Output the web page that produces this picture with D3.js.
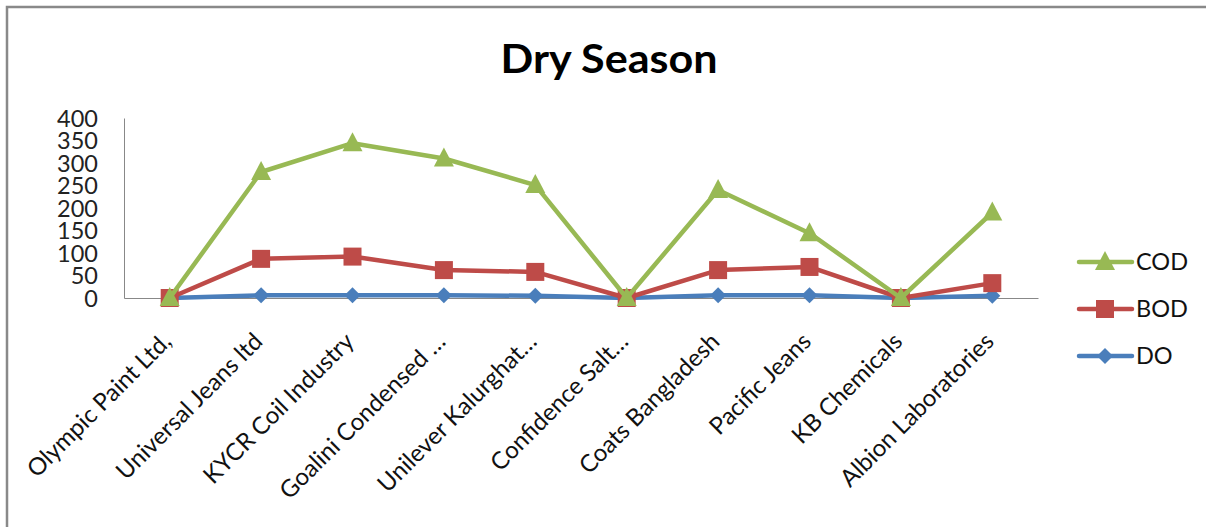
<!DOCTYPE html>
<html><head><meta charset="utf-8">
<script src="https://cdn.jsdelivr.net/npm/d3@7"></script>
<style>body{margin:0;background:#fff}svg{display:block;font-family:Lato,"Open Sans",sans-serif}</style>
</head><body><svg id="c" width="1206" height="527"></svg>
<script>
const categories = ["Olympic Paint Ltd,","Universal Jeans ltd","KYCR Coil Industry","Goalini Condensed …","Unilever Kalurghat…","Confidence Salt…","Coats Bangladesh","Pacific Jeans","KB Chemicals","Albion Laboratories"];
const codValues = [0,280,344,310,251,0,240,144,0,190];
const bodValues = [0,87,92,62,58,0,62,69,0,33];
const doValues = [0,6,6,6,5,0,6,6,0,5];
const yTicks = [0,50,100,150,200,250,300,350,400];
const seriesNames = ["COD","BOD","DO"];

const svg = d3.select("#c");
// frame
svg.append("path").attr("d","M7,527 L7,7 L1206,7").attr("fill","none").attr("stroke","#898989").attr("stroke-width",2.5);

const L=124,R=1038,T=118,B=298;
const x = d3.scaleBand().domain(categories).range([L,R]);
const y = d3.scaleLinear().domain([0,400]).range([B,T]);

svg.append("text").attr("x",609).attr("y",73).attr("text-anchor","middle")
  .attr("font-size",41).attr("font-weight","bold").attr("fill","#000")
  .attr("textLength",217).attr("lengthAdjust","spacingAndGlyphs").text("Dry Season");

// y axis
const ya = svg.append("g").attr("transform",`translate(${L},0)`)
  .call(d3.axisLeft(y).tickValues(yTicks).tickSize(0).tickPadding(26));
ya.select(".domain").attr("stroke","#888");
ya.selectAll("text").attr("font-size",23.5).attr("font-family","Lato,sans-serif").attr("fill","#222").attr("dy","0.36em");

// x axis
const xa = svg.append("g").attr("transform",`translate(0,${B})`)
  .call(d3.axisBottom(x).tickSize(0).tickFormat(""));
xa.select(".domain").attr("stroke","#888");
svg.append("g").selectAll("text").data(categories).join("text")
  .attr("transform",d=>`translate(${x(d)+x.bandwidth()/2+3},${B+45}) rotate(-45)`)
  .attr("text-anchor","end").attr("font-size",24).attr("fill","#111").text(d=>d);

const cx = d=>x(d)+x.bandwidth()/2;
const series = [
  {name:"DO", vals:doValues, color:"#4A7EBB", shape:"diamond"},
  {name:"BOD", vals:bodValues, color:"#BE4B48", shape:"square"},
  {name:"COD", vals:codValues, color:"#98B954", shape:"triangle"}
];
function marker(g,shape,color){
  if(shape==="square") g.append("rect").attr("x",-9).attr("y",-9).attr("width",18).attr("height",18).attr("fill",color);
  else if(shape==="diamond") g.append("path").attr("d","M0,-8L8,0L0,8L-8,0Z").attr("fill",color);
  else g.append("path").attr("d","M0,-11L10,8L-10,8Z").attr("fill",color);
}
const line = d3.line().x((d,i)=>cx(categories[i])).y(d=>y(d));
series.forEach(s=>{
  svg.append("path").datum(s.vals).attr("d",line).attr("fill","none").attr("stroke",s.color).attr("stroke-width",4.5).attr("stroke-linejoin","round");
  s.vals.forEach((v,i)=>{
    const g = svg.append("g").attr("transform",`translate(${cx(categories[i])},${y(v)})`);
    marker(g,s.shape,s.color);
  });
});

// legend
const legendOrder = ["COD","BOD","DO"];
legendOrder.forEach((n,i)=>{
  const s = series.find(z=>z.name===n);
  const ly = 262+i*47;
  const g = svg.append("g");
  g.append("line").attr("x1",1079).attr("x2",1132).attr("y1",ly).attr("y2",ly).attr("stroke",s.color).attr("stroke-width",4.5).attr("stroke-linecap","round");
  const m = g.append("g").attr("transform",`translate(1105,${ly})`);
  marker(m,s.shape,s.color);
  g.append("text").attr("x",1136).attr("y",ly).attr("dy","0.36em").attr("font-size",23.5).attr("fill","#111").text(n);
});
</script></body></html>
